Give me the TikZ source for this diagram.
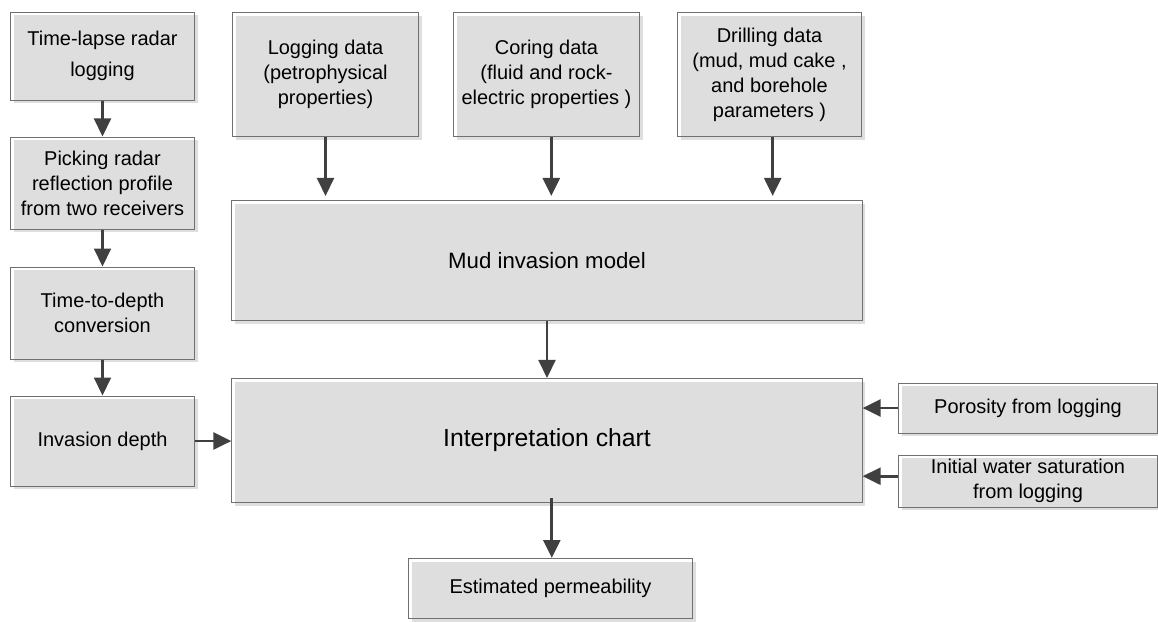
\documentclass[tikz,border=0pt]{standalone}
\usepackage{fontspec}
\setmainfont{Liberation Sans}
\usepackage{xcolor}
\definecolor{boxfill}{RGB}{222,222,222}
\definecolor{boxline}{RGB}{112,112,112}
\definecolor{arrowgray}{RGB}{64,64,64}
\usepackage{tikz}
\usetikzlibrary{positioning,arrows.meta,shadows}
\tikzset{
  procbox/.style ={rectangle,draw=boxline,line width=0.7pt,fill=none,align=center,
                   inner sep=2pt,
                   general shadow={fill=boxfill,shadow xshift=0.08cm,shadow yshift=-0.08cm},
                   font=\fontsize{14.2}{17.8}\selectfont},
  flow/.style    ={-{Triangle[length=0.45cm,width=0.42cm]},line width=2.1pt,draw=arrowgray},
}

\begin{document}
\begin{tikzpicture}[x=0.025cm,y=-0.025cm]
  \useasboundingbox (0,0) rectangle (1158,621);
  % left column
  \node[procbox,minimum width=4.6cm,minimum height=2.2cm] (tl) at (102.5,56)
    {Time-lapse radar\\[4pt]logging};
  \node[procbox,minimum width=4.6cm,minimum height=2.3cm] (pick) at (102.5,183)
    {Picking radar\\reflection profile\\from two receivers};
  \node[procbox,minimum width=4.6cm,minimum height=2.3cm] (ttd) at (102.5,313)
    {Time-to-depth\\conversion};
  \node[procbox,minimum width=4.6cm,minimum height=2.25cm] (invd) at (102.5,441)
    {Invasion depth};
  % data sources
  \node[procbox,minimum width=4.65cm,minimum height=3.1cm] (logd) at (325.5,74.5)
    {Logging data\\(petrophysical\\properties)};
  \node[procbox,minimum width=4.65cm,minimum height=3.1cm] (cord) at (546.5,74.5)
    {Coring data\\(fluid and rock-\\electric properties )};
  \node[procbox,minimum width=4.6cm,minimum height=3.1cm] (drid) at (769.5,74.5)
    {Drilling data\\(mud, mud cake ,\\and borehole\\parameters )};
  % central blocks
  \node[procbox,minimum width=15.75cm,minimum height=3.0cm,
        font=\fontsize{15.8}{19}\selectfont] (mud) at (547,260.5) {Mud invasion model};
  \node[procbox,minimum width=15.75cm,minimum height=3.1cm,
        font=\fontsize{17.6}{21}\selectfont] (interp) at (547,440.5) {Interpretation chart};
  % right inputs
  \node[procbox,minimum width=6.45cm,minimum height=1.25cm] (poro) at (1028,408)
    {Porosity from logging};
  \node[procbox,minimum width=6.45cm,minimum height=1.3cm] (swi) at (1028,481)
    {Initial water saturation\\from logging};
  % output
  \node[procbox,minimum width=7.1cm,minimum height=1.5cm] (perm) at (550.5,588.5)
    {Estimated permeability};
  % connectors
  \draw[flow] (tl) -- (pick);
  \draw[flow] (pick) -- (ttd);
  \draw[flow] (ttd) -- (invd);
  \draw[flow] (invd) -- (interp.west |- invd);
  \draw[flow] (logd) -- ([yshift=0.1cm]logd |- mud.north);
  \draw[flow] ([xshift=0.12cm]cord.south) -- ([xshift=0.12cm,yshift=0.1cm]cord |- mud.north);
  \draw[flow] ([xshift=0.08cm]drid.south) -- ([xshift=0.08cm,yshift=0.1cm]drid |- mud.north);
  \draw[flow] (mud) -- (interp);
  \draw[flow] (poro) -- (interp.east |- poro);
  \draw[flow] ([yshift=0.12cm]swi.west) -- ([yshift=0.12cm]interp.east |- swi);
  \draw[flow] ([xshift=0.12cm,yshift=0.12cm]interp.south) -- ([xshift=0.12cm]interp.south |- perm.north);
\end{tikzpicture}
\end{document}
